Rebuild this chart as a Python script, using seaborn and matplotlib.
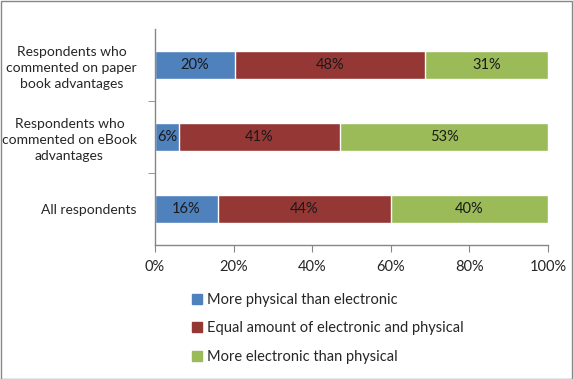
import matplotlib.pyplot as plt
import matplotlib.patches as mpatches
import seaborn as sns
import pandas as pd

# values (share of respondents, %)
groups = ["Respondents who\ncommented on paper\nbook advantages",
          "Respondents who\ncommented on eBook\nadvantages",
          "All respondents"]
physical = [20.4, 6.1, 16.0]
equal = [48.3, 41.0, 44.0]
electronic = [31.3, 52.9, 40.0]
series_names = ["More physical than electronic",
                "Equal amount of electronic and physical",
                "More electronic than physical"]
colors = ["#4F81BD", "#953735", "#9BBB59"]

sns.set_style("white")
plt.rcParams['font.family'] = ['Lato', 'DejaVu Sans']

df = pd.DataFrame({"group": groups, "p": physical, "e": equal, "x": electronic})
df["c1"] = df["p"]
df["c2"] = df["p"] + df["e"]
df["c3"] = df["c2"] + df["x"]

fig = plt.figure(figsize=(5.73, 3.79), dpi=100)
ax = fig.add_axes([0.2705, 0.3536, 0.6859, 0.5699])

# stacked bars drawn back to front
for col, color in zip(["c3", "c2", "c1"], colors[::-1]):
    sns.barplot(data=df, x=col, y="group", color=color, width=0.39,
                saturation=1, ax=ax, orient="y")

for i, row in df.iterrows():
    starts = [0, row["c1"], row["c2"]]
    for s, v in zip(starts, [row["p"], row["e"], row["x"]]):
        ax.text(s + v / 2, i, f"{v:.0f}%", ha="center", va="center",
                fontsize=10.5, color="#1a1a1a")

ax.set_xlim(0, 100)
ax.set_ylim(2.5, -0.5)
ax.set_xticks([0, 20, 40, 60, 80, 100])
ax.set_xticklabels([f"{t}%" for t in [0, 20, 40, 60, 80, 100]], fontsize=10.5)
ax.set_xlabel("")
ax.set_ylabel("")
for lab in ax.get_yticklabels():
    lab.set_multialignment("center")
    lab.set_linespacing(1.4)
    lab.set_fontsize(10)
ax.set_yticks([0.5, 1.5], minor=True)
ax.tick_params(axis="y", which="major", length=0, pad=13)
ax.tick_params(axis="y", which="minor", length=5, color="#868686", left=True)
ax.tick_params(axis="x", length=5, color="#868686", bottom=True, pad=6)

sns.despine(ax=ax, top=True, right=True)
for sp in ["left", "bottom"]:
    ax.spines[sp].set_color("#868686")
    ax.spines[sp].set_linewidth(1)

handles = [mpatches.Patch(color=c, label=n) for c, n in zip(colors, series_names)]
fig.legend(handles=handles, loc="upper left", bbox_to_anchor=(0.325, 0.243),
           frameon=False, fontsize=10.5, handlelength=0.7, handleheight=0.7,
           handletextpad=0.3, labelspacing=1.0, borderaxespad=0)

fig.add_artist(mpatches.Rectangle((0.001, 0.001), 0.997, 0.997, transform=fig.transFigure,
                                  fill=False, edgecolor="#878787", linewidth=1))

fig.savefig("out.png", dpi=100)
plt.close()
